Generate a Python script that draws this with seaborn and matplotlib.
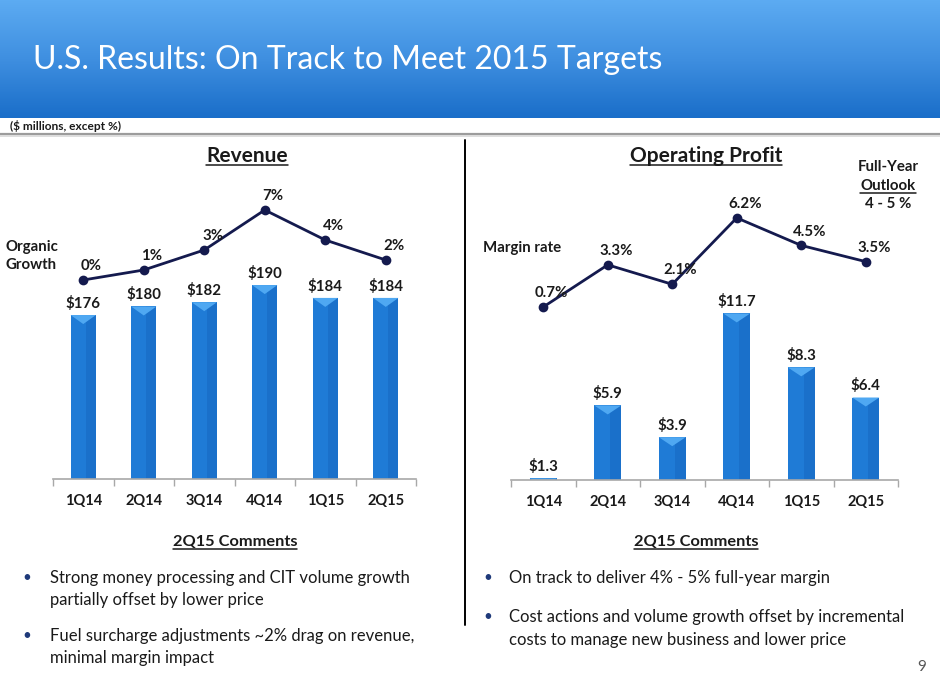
import numpy as np
import matplotlib
matplotlib.use("Agg")
import matplotlib.pyplot as plt
from matplotlib.colors import LinearSegmentedColormap
from matplotlib.lines import Line2D
import seaborn as sns

quarters = ["1Q14", "2Q14", "3Q14", "4Q14", "1Q15", "2Q15"]
revenue = [176, 180, 182, 190, 184, 184]
organic_growth = [0, 1, 3, 7, 4, 2]
op_profit = [1.3, 5.9, 3.9, 11.7, 8.3, 6.4]
margin_rate = [0.7, 3.3, 2.1, 6.2, 4.5, 3.5]

rev_labels = [f"${v}" for v in revenue]
growth_labels = [f"{v}%" for v in organic_growth]
profit_labels = [f"${v}" for v in op_profit]
margin_labels = [f"{v}%" for v in margin_rate]

left_comments = [
    ["Strong money processing and CIT volume growth", "partially offset by lower price"],
    ["Fuel surcharge adjustments ~2% drag on revenue,", "minimal margin impact"],
]
right_comments = [
    ["On track to deliver 4% - 5% full-year margin"],
    ["Cost actions and volume growth offset by incremental",
     "costs to manage new business and lower price"],
]

sns.set_theme(style="white")
plt.rcParams["font.family"] = ["Lato", "DejaVu Sans"]

W, H = 940, 686
BAR = "#1F7BD6"
BAR_DARK = "#1A70CA"
BAR_TOP = "#4FA8F2"
NAVY = "#141A4E"
TXT = "#1a1a1a"

fig = plt.figure(figsize=(W / 100, H / 100), dpi=100)
fig.patch.set_facecolor("white")


def fx(px):
    return px / W


def fy(py):
    return 1 - py / H


# header band with gradient
hdr = fig.add_axes([0, fy(118), 1, 118 / H])
cmap = LinearSegmentedColormap.from_list("hdr", ["#5CABF2", "#3F8FE0", "#1A6EC9"])
hdr.imshow(np.linspace(0, 1, 100).reshape(-1, 1), cmap=cmap, aspect="auto",
           extent=[0, 1, 0, 1])
hdr.axis("off")
fig.text(fx(33), fy(60), "U.S. Results: On Track to Meet 2015 Targets",
         color="white", fontsize=23, va="center", ha="left")
fig.add_artist(Line2D([0, 1], [fy(134), fy(134)], color="#9c9c9c", lw=1.6))
fig.add_artist(Line2D([0, 1], [fy(136), fy(136)], color="#d8d8d8", lw=1.2))
fig.text(fx(10), fy(126), "($ millions, except %)", fontsize=8.6, fontweight="bold",
         color=TXT, va="center")

# divider
fig.add_artist(Line2D([fx(465), fx(465)], [fy(140), fy(625)], color="black", lw=1.4))


def underlined(x, y, s, **kw):
    t = fig.text(x, y, s, ha="center", va="baseline", **kw)
    r = fig.canvas.get_renderer()
    bb = t.get_window_extent(renderer=r)
    uy = y - 3 / H
    fig.add_artist(Line2D([bb.x0 / W, bb.x1 / W], [uy, uy], color=TXT, lw=1.1))
    return t


def chart(rect, ylim_bar, ylim_line, bars, bar_lbls, line, line_lbls):
    ax = fig.add_axes(rect)
    sns.barplot(x=quarters, y=bars, ax=ax, color=BAR, width=0.42,
                linewidth=0, saturation=1)
    ax.set_ylim(*ylim_bar)
    # bevel shading on each bar
    per_px = (ylim_bar[1] - ylim_bar[0]) / (rect[3] * H)
    d = 9 * per_px
    for p in ax.containers[0]:
        x0, w, top, base = p.get_x(), p.get_width(), p.get_y() + p.get_height(), p.get_y()
        if top - base < d * 1.5:
            continue
        ax.fill([x0 + w * 0.6, x0 + w, x0 + w, x0 + w * 0.6],
                [base, base, top, top], color=BAR_DARK, lw=0, zorder=3)
        ax.fill([x0, x0 + w, x0 + w / 2], [top, top, top - d], color=BAR_TOP,
                lw=0, zorder=4)
    ax.bar_label(ax.containers[0], labels=bar_lbls, padding=3,
                 fontsize=10.8, fontweight="bold", color=TXT)
    ax2 = ax.twinx()
    sns.pointplot(x=quarters, y=line, ax=ax2, color=NAVY, markers="o",
                  linestyles="-", errorbar=None, markersize=5.5, linewidth=2)
    ax2.set_ylim(*ylim_line)
    for i, (v, s) in enumerate(zip(line, line_lbls)):
        ax2.annotate(s, (i, v), xytext=(6, 10), textcoords="offset points",
                     ha="center", va="center", fontsize=10.8,
                     fontweight="bold", color=TXT)
    for a in (ax, ax2):
        a.set_xlim(-0.5, 5.5)
        a.set_ylabel("")
        a.set_yticks([])
        for sp in ("top", "left", "right"):
            a.spines[sp].set_visible(False)
        a.patch.set_alpha(0)
    ax2.spines["bottom"].set_visible(False)
    ax.spines["bottom"].set_color("#a8a8a8")
    ax.spines["bottom"].set_linewidth(1.2)
    ax.spines["bottom"].set_zorder(5)
    ax.set_xticks(range(6))
    ax.set_xticklabels(quarters, fontsize=10.5, fontweight="bold", color=TXT)
    ax.set_xticks(np.arange(-0.5, 6, 1), minor=True)
    ax.tick_params(axis="x", which="major", length=0, pad=11)
    ax.tick_params(axis="x", which="minor", length=5, color="#a8a8a8",
                   width=1, direction="out", bottom=True)
    ax.set_xlabel("")
    return ax


chart([fx(53), fy(479), fx(416 - 53), (479 - 150) / H], (99.4, 253.1), (-19.9, 13.0),
      revenue, rev_labels, organic_growth, growth_labels)
chart([fx(511), fy(480), fx(898 - 511), (480 - 150) / H], (1.2, 22.0), (-9.98, 10.39),
      op_profit, profit_labels, margin_rate, margin_labels)

underlined(fx(247), fy(162), "Revenue", fontsize=15, fontweight="bold", color=TXT)
underlined(fx(706), fy(162), "Operating Profit", fontsize=15, fontweight="bold", color=TXT)

fig.text(fx(5), fy(256), "Organic\nGrowth", fontsize=10.8, fontweight="bold",
         color=TXT, va="center", ha="left", linespacing=1.3)
fig.text(fx(483), fy(248), "Margin rate", fontsize=10.8, fontweight="bold",
         color=TXT, va="center", ha="left")

fig.text(fx(888), fy(167), "Full-Year", fontsize=10.8, fontweight="bold",
         color=TXT, va="center", ha="center")
underlined(fx(888), fy(190), "Outlook", fontsize=10.8, fontweight="bold", color=TXT)
fig.text(fx(888), fy(204), "4 - 5 %", fontsize=10.8, fontweight="bold",
         color=TXT, va="center", ha="center")

# comments
underlined(fx(235), fy(546), "2Q15 Comments", fontsize=11.8, fontweight="bold", color=TXT)
underlined(fx(696), fy(546), "2Q15 Comments", fontsize=11.8, fontweight="bold", color=TXT)

for (bx, tx, ys, items) in [(22, 50, [578, 636], left_comments),
                             (483, 509, [578, 617], right_comments)]:
    for y, lines in zip(ys, items):
        fig.text(fx(bx), fy(y), "\u2022", fontsize=11, color="#1F3A7A",
                 va="center", ha="left")
        for k, s in enumerate(lines):
            fig.text(fx(tx), fy(y + 22.5 * k), s, fontsize=12, color=TXT,
                     va="center", ha="left")

fig.text(fx(922), fy(667), "9", fontsize=11, color="#555555", ha="center", va="center")

fig.savefig("out.png", dpi=100)
